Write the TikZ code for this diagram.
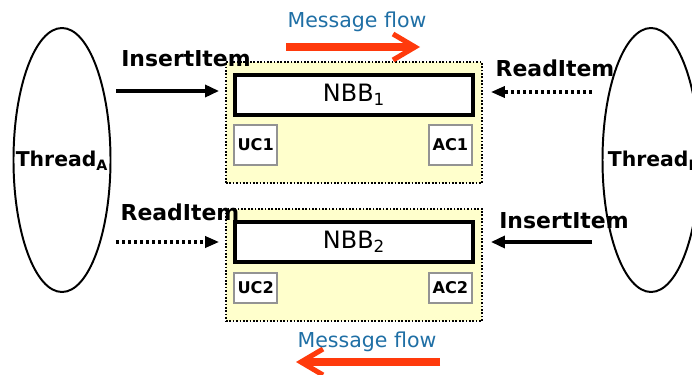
\documentclass[tikz,border=0pt]{standalone}
\usepackage{fontspec}
\setmainfont{DejaVu Sans}
\usetikzlibrary{positioning,arrows.meta,fit,backgrounds,shapes.geometric}
\definecolor{flowred}{HTML}{FF3A0C}
\definecolor{flowblue}{HTML}{1F6FA5}
\definecolor{grpyellow}{HTML}{FFFFCC}

\begin{document}
\begin{tikzpicture}[x=0.25mm, y=-0.25mm,
  thread/.style={draw, ellipse, line width=1.4pt, minimum width=24.25mm,
                 minimum height=66mm, inner sep=0pt},
  tlbl/.style={font=\fontsize{14.5}{17}\selectfont\bfseries, inner sep=0pt, anchor=base},
  nbb/.style={draw, line width=2.8pt, fill=white, minimum width=59.5mm, minimum height=10mm,
              font=\fontsize{17}{20}\selectfont, inner sep=0pt},
  cnt/.style={draw=gray!85, line width=1.6pt, fill=white, minimum width=10.75mm,
              minimum height=10mm, font=\fontsize{11.5}{13}\selectfont\bfseries, inner sep=0pt},
  grp/.style={draw, line width=1.4pt, dash pattern=on 1.2pt off 1.2pt, fill=grpyellow,
              inner xsep=1.75mm, inner ysep=3.5mm},
  lbl/.style={font=\fontsize{15.6}{18}\selectfont\bfseries, inner sep=0pt, anchor=base},
  flowlbl/.style={font=\fontsize{14.6}{17}\selectfont, text=flowblue, inner sep=0pt, anchor=base},
  solidarr/.style={-{Triangle[length=3.5mm, width=3mm]}, line width=2.4pt},
  dotarr/.style={-{Triangle[length=3.5mm, width=2.8mm]}, line width=2.2pt,
                 dash pattern=on 0.75mm off 0.75mm},
  flow/.style={-{Straight Barb[length=5.5mm, width=6.5mm, line width=3.6pt, sharp]},
               line width=5.6pt, draw=flowred}]
\useasboundingbox (0,0) rectangle (692,375);
% the two threads
\node[thread] (thrA) at (62,160) {};
\node[thread] (thrB) at (651,160) {};
\node[tlbl] (thrAlbl) at (62,167) {Thread\textsubscript{A}};
\node[tlbl] (thrBlbl) at (654,167) {Thread\textsubscript{B}};
% upper buffer, A -> B
\node[nbb] (nbb1) at (354,95) {NBB\textsubscript{1}};
\node[cnt, below right=1.75mm and 0mm of nbb1.south west] (uc1) {UC1};
\node[cnt, below left=1.75mm and 0.5mm of nbb1.south east] (ac1) {AC1};
% lower buffer, B -> A
\node[nbb] (nbb2) at (354,242) {NBB\textsubscript{2}};
\node[cnt, minimum height=7.5mm, below right=2mm and 0mm of nbb2.south west] (uc2) {UC2};
\node[cnt, minimum height=7.5mm, below left=2mm and 0.5mm of nbb2.south east] (ac2) {AC2};
\begin{scope}[on background layer]
  \node[grp, fit=(nbb1)(uc1)(ac1), yshift=-0.75mm] (grp1) {};
  \node[grp, fit=(nbb2)(uc2)(ac2), yshift=-0.75mm] (grp2) {};
\end{scope}
% calls into the buffers
\coordinate (insA) at (116,91);
\draw[solidarr, shorten >=1.5mm] (insA) -- (insA -| grp1.west);
\node[lbl] (insAlbl) at (186,67) {InsertItem};
\coordinate (rdB) at (592,92);
\draw[dotarr, shorten >=2mm] (rdB) -- (rdB -| grp1.east);
\node[lbl] (rdBlbl) at (555,77) {ReadItem};
\coordinate (rdA) at (116,242);
\draw[dotarr, shorten >=1.5mm] (rdA) -- (rdA -| grp2.west);
\node[lbl] (rdAlbl) at (180,220) {ReadItem};
\coordinate (insB) at (592,242);
\draw[solidarr, shorten >=2mm] (insB) -- (insB -| grp2.east);
\node[lbl] (insBlbl) at (564,228) {InsertItem};
% message flow
\coordinate (flow1s) at (286,47);
\coordinate (flow1e) at (420,47);
\draw[flow] (flow1s) -- (flow1e);
\node[flowlbl] (flow1lbl) at (357,28) {Message flow};
\coordinate (flow2s) at (440,362);
\coordinate (flow2e) at (296,362);
\draw[flow] (flow2s) -- (flow2e);
\node[flowlbl] (flow2lbl) at (367,347) {Message flow};
\end{tikzpicture}
\end{document}
